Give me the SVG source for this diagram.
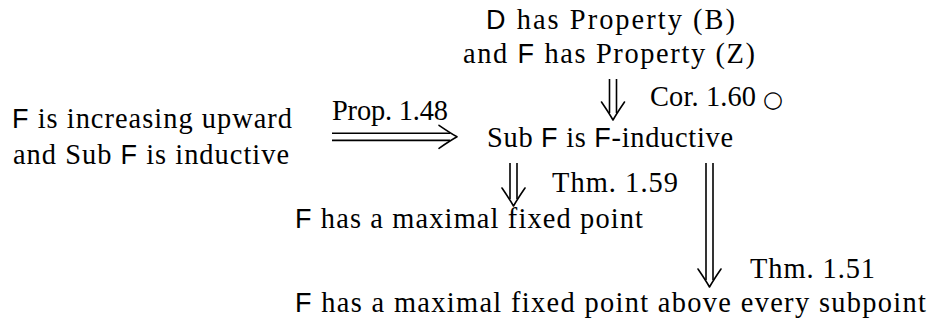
<svg xmlns="http://www.w3.org/2000/svg" width="929" height="326" viewBox="0 0 929 326">
<style>
text{font-family:"Liberation Serif","DejaVu Serif",serif;font-size:28.4px;fill:#000}
.sf{font-family:"Liberation Sans","DejaVu Sans",sans-serif;font-size:27px}
.qed{font-family:"DejaVu Sans",sans-serif;font-size:23px}
.sh{fill:none;stroke:#000;stroke-width:1.6}
.hd{fill:none;stroke:#000;stroke-width:1.6;stroke-linecap:round;stroke-linejoin:round}
</style>
<defs><path id="hd" class="hd" d="M-18,-11.5 Q-7,-4 0,0 Q-7,4 -18,11.5"/></defs>
<rect width="929" height="326" fill="#fff"/>
<g id="n-db">
<text x="486" y="29" textLength="249" lengthAdjust="spacing"><tspan class="sf">D</tspan> has Property (B)</text>
<text x="463" y="63" textLength="292" lengthAdjust="spacing">and <tspan class="sf">F</tspan> has Property (Z)</text>
</g>
<g id="n-left">
<text x="12" y="128" textLength="280" lengthAdjust="spacing"><tspan class="sf">F</tspan> is increasing upward</text>
<text x="13" y="164" textLength="276" lengthAdjust="spacing">and Sub <tspan class="sf">F</tspan> is inductive</text>
</g>
<g id="n-sub">
<text x="487" y="147" textLength="246" lengthAdjust="spacing">Sub <tspan class="sf">F</tspan> is <tspan class="sf">F</tspan>-inductive</text>
</g>
<g id="n-max">
<text x="295" y="228" textLength="348" lengthAdjust="spacing"><tspan class="sf">F</tspan> has a maximal fixed point</text>
</g>
<g id="n-above">
<text x="295" y="312" textLength="631" lengthAdjust="spacing"><tspan class="sf">F</tspan> has a maximal fixed point above every subpoint</text>
</g>
<g id="connectors">
<g id="e-prop">
<line class="sh" x1="332" y1="133.2" x2="450" y2="133.2"/>
<line class="sh" x1="332" y1="140.4" x2="450" y2="140.4"/>
<use href="#hd" transform="translate(457,136.8)"/>
<text x="332" y="120" textLength="116" lengthAdjust="spacing">Prop. 1.48</text>
</g>
<g id="e-cor">
<line class="sh" x1="609.5" y1="79" x2="609.5" y2="113"/>
<line class="sh" x1="616.5" y1="79" x2="616.5" y2="113"/>
<use href="#hd" transform="translate(613,120) rotate(90)"/>
<text x="650" y="106" textLength="106" lengthAdjust="spacing">Cor. 1.60</text>
<text class="qed" x="763" y="107">○</text>
</g>
<g id="e-thm159">
<line class="sh" x1="510" y1="163" x2="510" y2="199"/>
<line class="sh" x1="517" y1="163" x2="517" y2="199"/>
<use href="#hd" transform="translate(513.5,206) rotate(90)"/>
<text x="552" y="192" textLength="126" lengthAdjust="spacing">Thm. 1.59</text>
</g>
<g id="e-thm151">
<line class="sh" x1="706" y1="163" x2="706" y2="280"/>
<line class="sh" x1="713" y1="163" x2="713" y2="280"/>
<use href="#hd" transform="translate(709.5,287) rotate(90)"/>
<text x="750" y="278" textLength="125" lengthAdjust="spacing">Thm. 1.51</text>
</g>
</g>
</svg>
